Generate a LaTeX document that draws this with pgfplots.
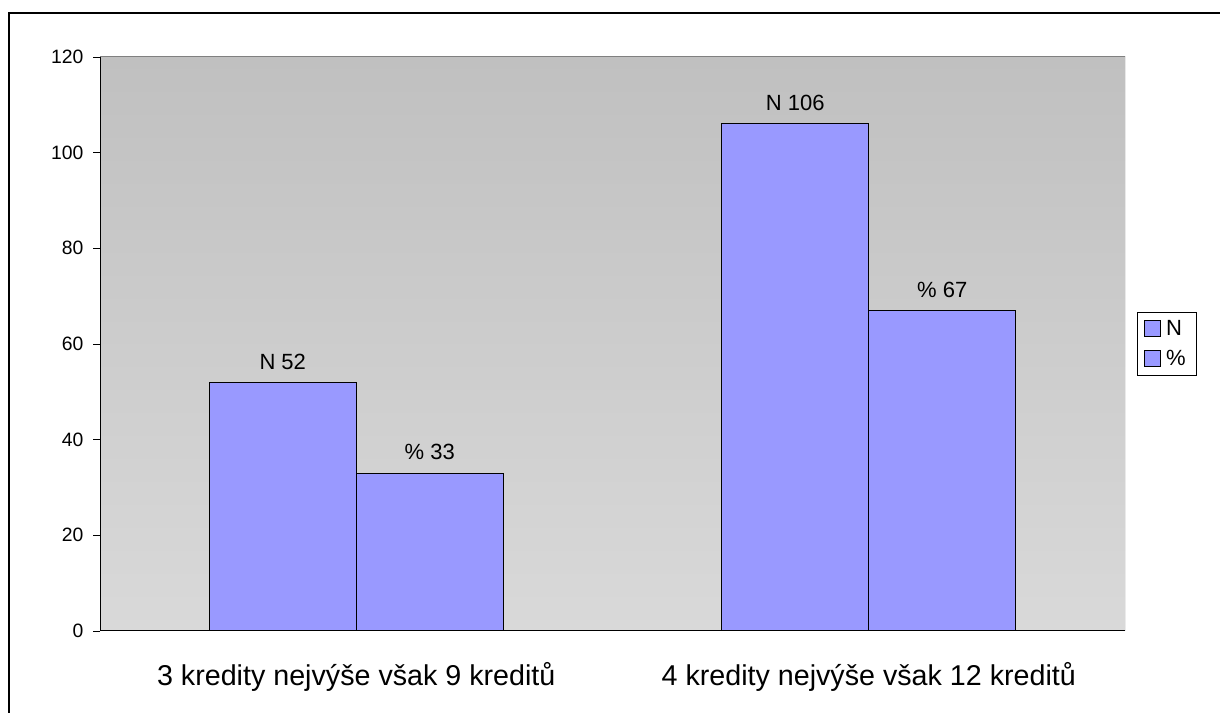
\documentclass[border=0pt]{standalone}
\usepackage{fontspec}
\setmainfont{Liberation Sans}
\usepackage{pgfplots}
\pgfplotsset{compat=1.18}
\definecolor{barc}{HTML}{9999FF}
\definecolor{bgtop}{HTML}{C0C0C0}
\definecolor{bgbot}{HTML}{D9D9D9}
\begin{document}
\begin{tikzpicture}
\path[use as bounding box] (0,0) rectangle (915pt,534.75pt);
\draw[line width=1.5pt] (6.75pt,0) -- (6.75pt,525pt) -- (915pt,525pt);
\begin{axis}[
  at={(75pt,61.5pt)}, anchor=south west,
  scale only axis, width=768.75pt, height=430.5pt,
  xmin=-0.5, xmax=1.5, ymin=0, ymax=120,
  enlargelimits=false,
  ytick={0,20,...,120},
  xtick={0,1},
  xticklabels={3 kredity nejvýše však 9 kreditů, 4 kredity nejvýše však 12 kreditů},
  x tick style={draw=none},
  y tick style={black, line width=0.6pt},
  tick align=outside, major tick length=5pt,
  axis x line*=bottom, axis y line*=left,
  axis line style={black, line width=0.75pt},
  /pgf/number format/assume math mode=true,
  yticklabel style={font=\fontsize{14.5}{17}\selectfont, xshift=-4pt},
  xticklabel style={font=\fontsize{21.5}{25}\selectfont, yshift=-15pt},
  axis background/.style={top color=bgtop, bottom color=bgbot},
  ybar=0pt, bar width=110.25pt,
  nodes near coords style={font=\fontsize{16.5}{19}\selectfont, black, yshift=6pt},
  legend style={at={(1.0117,0.5)}, anchor=west, draw=black, line width=0.6pt,
    font=\fontsize{16.5}{19}\selectfont, inner xsep=5pt, inner ysep=4pt, row sep=6pt,
    nodes={inner xsep=4pt, text width=14pt}},
  legend cell align=left,
  legend image code/.code={\draw[#1, draw=black, line width=0.6pt] (0pt,-5.5pt) rectangle (12pt,6.5pt);},
]
\addplot[fill=barc, draw=black, line width=0.75pt,
  nodes near coords={N \pgfmathprintnumber{\pgfplotspointmeta}}]
  coordinates {(0,52) (1,106)};
\addplot[fill=barc, draw=black, line width=0.75pt,
  nodes near coords={\% \pgfmathprintnumber{\pgfplotspointmeta}}]
  coordinates {(0,33) (1,67)};
\legend{N, \%}
\draw[color=gray, line width=0.75pt] (rel axis cs:0,1) -- (rel axis cs:1,1) -- (rel axis cs:1,0);
\draw[black, line width=0.75pt] (axis cs:-0.5,0) -- ++(0pt,-5.25pt);
\draw[black, line width=0.75pt] (axis cs:0.5,0) -- ++(0pt,-5.25pt);
\draw[black, line width=0.75pt] (axis cs:1.5,0) -- ++(0pt,-5.25pt);
\end{axis}
\end{tikzpicture}
\end{document}
